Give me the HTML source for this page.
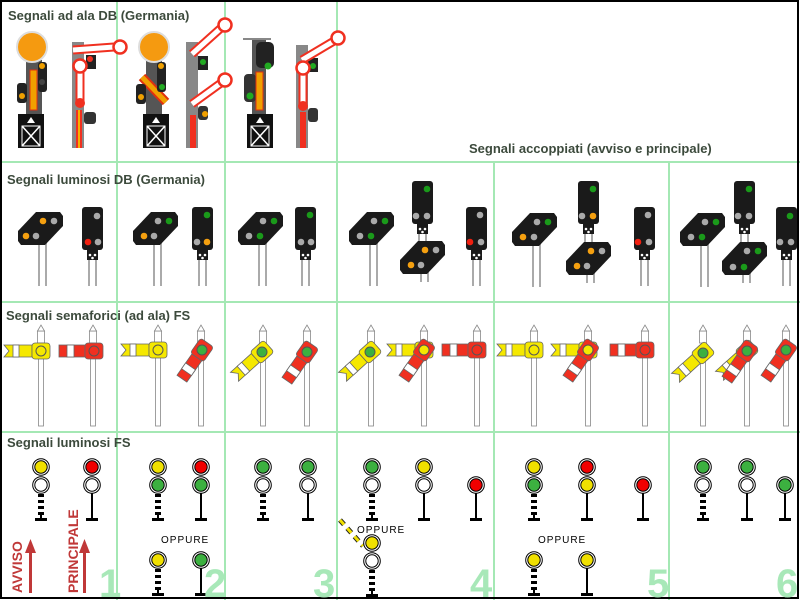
<!DOCTYPE html>
<html><head><meta charset="utf-8"><style>
html,body{margin:0;padding:0;background:#fff}
svg{display:block}
.t{font-family:"Liberation Sans",sans-serif;font-weight:bold;font-size:13px;fill:#3c4a3c}
.n{font-family:"Liberation Sans",sans-serif;font-weight:bold;font-size:40px;fill:#a8e8b8}
.o{font-family:"Liberation Sans",sans-serif;font-size:10px;fill:#000;letter-spacing:1px}
.r{font-family:"Liberation Sans",sans-serif;font-weight:bold;font-size:14px;fill:#c03838}
</style></head><body>
<svg width="800" height="600" viewBox="0 0 800 600" xmlns="http://www.w3.org/2000/svg">
<defs>
 <g id="lamp"><circle r="8.3" fill="#fff" stroke="#000" stroke-width="1"/><circle r="6.2" stroke="#000" stroke-width="1"/></g>
 <g id="dpost"><rect x="-3" y="9" width="6" height="3" fill="#000"/><rect x="-3" y="15" width="6" height="3" fill="#000"/><rect x="-3" y="21" width="6" height="3" fill="#000"/><rect x="-3" y="27" width="6" height="3" fill="#000"/><rect x="-1" y="30" width="2" height="4" fill="#000"/><rect x="-6" y="33" width="12" height="3" fill="#000"/></g>
 <g id="spost"><rect x="-1" y="8" width="2" height="26" fill="#000"/><rect x="-6" y="33" width="12" height="3" fill="#000"/></g>
 <g id="yarm" stroke="#666" stroke-width="0.8"><polygon points="-9,-6 -37,-6 -32,0 -37,6 -9,6" fill="#f5e800"/><rect x="-28" y="-6" width="6" height="12" fill="#fff"/><rect x="-9" y="-8" width="18" height="16" rx="3" fill="#f5e800"/></g>
 <g id="rarm" stroke="#666" stroke-width="0.8"><rect x="-35" y="-6" width="26" height="12" fill="#f03020"/><rect x="-27" y="-6" width="7" height="12" fill="#fff"/><rect x="-9" y="-8" width="18" height="16" rx="3" fill="#f03020"/></g>
 <g id="spole" fill="#fff" stroke="#888" stroke-width="0.8"><rect x="-2.5" y="8" width="5" height="75"/><rect x="-3.5" y="-12" width="7" height="12"/><polygon points="-3.5,-12 0,-18 3.5,-12"/></g>
 <g id="vorb"><polygon points="-7,-9 17,-9 20,-5 20,5 2,24 -22,24 -25,20 -25,10" fill="#1a1a1a"/></g>
 <g id="vor"><line x1="-4" y1="24" x2="-4" y2="65" stroke="#aaa" stroke-width="2"/><line x1="3" y1="20" x2="3" y2="65" stroke="#aaa" stroke-width="2"/><use href="#vorb"/></g>
 <g id="vor2"><line x1="-4" y1="24" x2="-4" y2="32" stroke="#aaa" stroke-width="2"/><line x1="3" y1="20" x2="3" y2="32" stroke="#aaa" stroke-width="2"/><use href="#vorb"/></g>
 <g id="haupt"><rect x="0" y="0" width="21" height="43" rx="3" fill="#1a1a1a"/><rect x="5" y="43" width="11" height="10" fill="#1a1a1a"/><circle cx="8" cy="48" r="1.3" fill="#fff"/><circle cx="13" cy="48" r="1.3" fill="#fff"/><circle cx="10.5" cy="51" r="1.3" fill="#fff"/><line x1="7" y1="53" x2="7" y2="79" stroke="#aaa" stroke-width="2"/><line x1="14" y1="53" x2="14" y2="79" stroke="#aaa" stroke-width="2"/></g>
 <g id="lattice"><rect x="0" y="0" width="26" height="34" fill="#111"/><polygon points="13,3 9,9 17,9" fill="#fff"/><line x1="4" y1="12" x2="22" y2="32" stroke="#fff" stroke-width="1.5"/><line x1="22" y1="12" x2="4" y2="32" stroke="#fff" stroke-width="1.5"/><rect x="4" y="12" width="18" height="20" fill="none" stroke="#fff" stroke-width="1"/></g>
</defs>
<rect x="0" y="0" width="800" height="600" fill="#fff"/>
<g stroke="#a4e8b4" stroke-width="2">
<line x1="117" y1="0" x2="117" y2="600"/><line x1="225" y1="0" x2="225" y2="600"/><line x1="337" y1="0" x2="337" y2="600"/>
<line x1="494" y1="162" x2="494" y2="600"/><line x1="669" y1="162" x2="669" y2="600"/>
<line x1="0" y1="162" x2="800" y2="162"/><line x1="0" y1="302" x2="800" y2="302"/><line x1="0" y1="432" x2="800" y2="432"/>
</g>
<rect x="1" y="1" width="797" height="597" fill="none" stroke="#000" stroke-width="2"/>

<text class="t" x="8" y="20">Segnali ad ala DB (Germania)</text>
<text class="t" x="469" y="153">Segnali accoppiati (avviso e principale)</text>
<text class="t" x="7" y="184">Segnali luminosi DB (Germania)</text>
<text class="t" x="6" y="320">Segnali semaforici (ad ala) FS</text>
<text class="t" x="7" y="447">Segnali luminosi FS</text>

<g>
 <rect x="26" y="60" width="16" height="88" fill="#555"/>
 <circle cx="32" cy="47" r="15" fill="#f59a10" stroke="#ddd" stroke-width="2"/>
 <rect x="30" y="70" width="7" height="40" fill="#f0a000" stroke="#e03010" stroke-width="1"/>
 <rect x="38" y="62" width="9" height="30" rx="3" fill="#222"/><circle cx="42" cy="66" r="3" fill="#f0a000"/><circle cx="42" cy="82" r="3" fill="#444"/>
 <rect x="17" y="83" width="10" height="20" rx="3" fill="#222"/><circle cx="22" cy="96" r="3" fill="#f0a000"/>
 <use href="#lattice" x="18" y="114"/>
 <rect x="72" y="42" width="12" height="106" fill="#888"/><rect x="76" y="110" width="6" height="38" fill="#f03020"/><rect x="78" y="110" width="2" height="38" fill="#f5b000"/>
 <rect x="86" y="55" width="10" height="14" fill="#222"/><circle cx="90" cy="59" r="3" fill="#f03020"/>
 <rect x="84" y="112" width="12" height="12" rx="3" fill="#333"/>
 <line x1="73" y1="50" x2="114" y2="47" stroke="#f03020" stroke-width="9"/><line x1="73" y1="50" x2="114" y2="47" stroke="#fff" stroke-width="5"/>
 <circle cx="120" cy="47" r="6.5" fill="#fff" stroke="#f03020" stroke-width="2.5"/>
 <line x1="80" y1="66" x2="80" y2="105" stroke="#f03020" stroke-width="9"/><line x1="80" y1="66" x2="80" y2="105" stroke="#fff" stroke-width="5"/>
 <circle cx="80" cy="66" r="6.5" fill="#fff" stroke="#f03020" stroke-width="2.5"/>
 <circle cx="80" cy="103" r="5" fill="#f03020"/>
 <rect x="146" y="60" width="16" height="88" fill="#555"/>
 <circle cx="154" cy="47" r="15" fill="#f59a10" stroke="#ddd" stroke-width="2"/>
 <line x1="142" y1="77" x2="166" y2="102" stroke="#e03010" stroke-width="9"/><line x1="142" y1="77" x2="166" y2="102" stroke="#f0a000" stroke-width="5"/>
 <rect x="157" y="62" width="9" height="30" rx="3" fill="#222"/><circle cx="161" cy="66" r="3" fill="#f0a000"/><circle cx="162" cy="87" r="3" fill="#2a2"/>
 <rect x="136" y="84" width="10" height="20" rx="3" fill="#222"/><circle cx="141" cy="97" r="3" fill="#f0a000"/>
 <use href="#lattice" x="143" y="114"/>
 <rect x="186" y="42" width="12" height="106" fill="#888"/><rect x="190" y="115" width="6" height="33" fill="#f03020"/>
 <rect x="198" y="56" width="10" height="14" fill="#222"/><circle cx="203" cy="62" r="3" fill="#2a2"/>
 <rect x="198" y="106" width="10" height="14" rx="3" fill="#333"/><circle cx="205" cy="114" r="3" fill="#f0a000"/>
 <line x1="192" y1="54" x2="221" y2="28" stroke="#f03020" stroke-width="9"/><line x1="192" y1="54" x2="221" y2="28" stroke="#fff" stroke-width="5"/>
 <circle cx="225" cy="25" r="6.5" fill="#fff" stroke="#f03020" stroke-width="2.5"/>
 <line x1="192" y1="104" x2="221" y2="83" stroke="#f03020" stroke-width="9"/><line x1="192" y1="104" x2="221" y2="83" stroke="#fff" stroke-width="5"/>
 <circle cx="225" cy="80" r="6.5" fill="#fff" stroke="#f03020" stroke-width="2.5"/>
 <line x1="243" y1="39" x2="271" y2="39" stroke="#888" stroke-width="2"/>
 <rect x="252" y="40" width="14" height="108" fill="#555"/>
 <rect x="256" y="42" width="18" height="26" rx="5" fill="#222"/><circle cx="268" cy="66" r="3.5" fill="#2a2"/>
 <rect x="244" y="74" width="12" height="28" rx="4" fill="#333"/><circle cx="250" cy="96" r="3.5" fill="#2a2"/>
 <rect x="256" y="72" width="7" height="38" fill="#f0a000" stroke="#e03010" stroke-width="1"/>
 <use href="#lattice" x="247" y="114"/>
 <rect x="296" y="45" width="12" height="103" fill="#888"/><rect x="300" y="112" width="6" height="36" fill="#f03020"/>
 <rect x="308" y="58" width="10" height="14" fill="#222"/><circle cx="313" cy="66" r="3" fill="#2a2"/>
 <rect x="308" y="108" width="10" height="14" rx="3" fill="#333"/>
 <line x1="302" y1="60" x2="334" y2="41" stroke="#f03020" stroke-width="9"/><line x1="302" y1="60" x2="334" y2="41" stroke="#fff" stroke-width="5"/>
 <circle cx="338" cy="38" r="6.5" fill="#fff" stroke="#f03020" stroke-width="2.5"/>
 <line x1="303" y1="68" x2="303" y2="106" stroke="#f03020" stroke-width="9"/><line x1="303" y1="68" x2="303" y2="106" stroke="#fff" stroke-width="5"/>
 <circle cx="303" cy="68" r="6.5" fill="#fff" stroke="#f03020" stroke-width="2.5"/>
 <circle cx="303" cy="106" r="5" fill="#f03020"/>
</g>

<g>
 <use href="#vor" x="43" y="221"/>
 <circle cx="43" cy="221" r="3.3" fill="#f5a010"/><circle cx="54" cy="221" r="3.3" fill="#aaa"/><circle cx="26" cy="236" r="3.3" fill="#f5a010"/><circle cx="36" cy="236" r="3.3" fill="#aaa"/>
 <use href="#haupt" x="82" y="207"/>
 <circle cx="97" cy="216" r="3.3" fill="#aaa"/><circle cx="88" cy="242" r="3.3" fill="#f02010"/><circle cx="98" cy="242" r="3.3" fill="#aaa"/>

 <use href="#vor" x="158" y="221"/>
 <circle cx="158" cy="221" r="3.3" fill="#aaa"/><circle cx="169" cy="221" r="3.3" fill="#1a9a1a"/><circle cx="144" cy="236" r="3.3" fill="#f5a010"/><circle cx="154" cy="236" r="3.3" fill="#aaa"/>
 <use href="#haupt" x="192" y="207"/>
 <circle cx="207" cy="215" r="3.3" fill="#1a9a1a"/><circle cx="197" cy="242" r="3.3" fill="#aaa"/><circle cx="207" cy="242" r="3.3" fill="#f5a010"/>

 <use href="#vor" x="263" y="221"/>
 <circle cx="263" cy="221" r="3.3" fill="#aaa"/><circle cx="274" cy="221" r="3.3" fill="#1a9a1a"/><circle cx="249" cy="236" r="3.3" fill="#aaa"/><circle cx="260" cy="236" r="3.3" fill="#1a9a1a"/>
 <use href="#haupt" x="295" y="207"/>
 <circle cx="310" cy="215" r="3.3" fill="#1a9a1a"/><circle cx="301" cy="242" r="3.3" fill="#aaa"/><circle cx="311" cy="242" r="3.3" fill="#aaa"/>

 <use href="#vor" x="374" y="221"/>
 <circle cx="374" cy="221" r="3.3" fill="#aaa"/><circle cx="385" cy="221" r="3.3" fill="#1a9a1a"/><circle cx="360" cy="236" r="3.3" fill="#aaa"/><circle cx="371" cy="236" r="3.3" fill="#1a9a1a"/>
 <use href="#haupt" x="412" y="181"/>
 <circle cx="427" cy="189" r="3.3" fill="#1a9a1a"/><circle cx="416" cy="216" r="3.3" fill="#aaa"/><circle cx="427" cy="216" r="3.3" fill="#aaa"/>
 <use href="#vor2" x="425" y="250"/>
 <circle cx="425" cy="250" r="3.3" fill="#f5a010"/><circle cx="436" cy="250" r="3.3" fill="#aaa"/><circle cx="411" cy="265" r="3.3" fill="#f5a010"/><circle cx="421" cy="265" r="3.3" fill="#aaa"/>
 <use href="#haupt" x="466" y="207"/>
 <circle cx="480" cy="215" r="3.3" fill="#aaa"/><circle cx="470" cy="242" r="3.3" fill="#f02010"/><circle cx="481" cy="242" r="3.3" fill="#aaa"/>

 <use href="#vor" x="537" y="222"/>
 <circle cx="537" cy="222" r="3.3" fill="#aaa"/><circle cx="548" cy="222" r="3.3" fill="#1a9a1a"/><circle cx="523" cy="237" r="3.3" fill="#f5a010"/><circle cx="534" cy="237" r="3.3" fill="#aaa"/>
 <use href="#haupt" x="578" y="181"/>
 <circle cx="593" cy="189" r="3.3" fill="#1a9a1a"/><circle cx="582" cy="216" r="3.3" fill="#aaa"/><circle cx="593" cy="216" r="3.3" fill="#f5a010"/>
 <use href="#vor2" x="591" y="251"/>
 <circle cx="591" cy="251" r="3.3" fill="#f5a010"/><circle cx="602" cy="251" r="3.3" fill="#aaa"/><circle cx="577" cy="266" r="3.3" fill="#f5a010"/><circle cx="587" cy="266" r="3.3" fill="#aaa"/>
 <use href="#haupt" x="634" y="207"/>
 <circle cx="648" cy="215" r="3.3" fill="#aaa"/><circle cx="638" cy="242" r="3.3" fill="#f02010"/><circle cx="649" cy="242" r="3.3" fill="#aaa"/>

 <use href="#vor" x="705" y="222"/>
 <circle cx="705" cy="222" r="3.3" fill="#aaa"/><circle cx="716" cy="222" r="3.3" fill="#1a9a1a"/><circle cx="691" cy="237" r="3.3" fill="#aaa"/><circle cx="702" cy="237" r="3.3" fill="#1a9a1a"/>
 <use href="#haupt" x="734" y="181"/>
 <circle cx="749" cy="189" r="3.3" fill="#1a9a1a"/><circle cx="738" cy="216" r="3.3" fill="#aaa"/><circle cx="749" cy="216" r="3.3" fill="#aaa"/>
 <use href="#vor2" x="747" y="251"/>
 <circle cx="747" cy="251" r="3.3" fill="#aaa"/><circle cx="758" cy="251" r="3.3" fill="#1a9a1a"/><circle cx="733" cy="267" r="3.3" fill="#aaa"/><circle cx="744" cy="267" r="3.3" fill="#1a9a1a"/>
 <use href="#haupt" x="776" y="207"/>
 <circle cx="790" cy="216" r="3.3" fill="#1a9a1a"/><circle cx="780" cy="242" r="3.3" fill="#aaa"/><circle cx="791" cy="242" r="3.3" fill="#aaa"/>
</g>

<g>
 <use href="#spole" x="41" y="343"/><use href="#yarm" x="41" y="351"/><circle cx="41" cy="351" r="5" fill="#f5e800" stroke="#555"/>
 <use href="#spole" x="93" y="343"/><use href="#rarm" x="94" y="351"/><circle cx="94" cy="351" r="5" fill="#f03020" stroke="#555"/>

 <use href="#spole" x="158" y="343"/><use href="#yarm" x="158" y="350"/><circle cx="158" cy="350" r="5" fill="#f5e800" stroke="#555"/>
 <use href="#spole" x="201" y="343"/><g transform="translate(202,350) rotate(-55)"><use href="#rarm"/></g><circle cx="202" cy="350" r="5" fill="#3cb040" stroke="#555"/>

 <use href="#spole" x="263" y="343"/><g transform="translate(262,352) rotate(-42)"><use href="#yarm"/></g><circle cx="262" cy="352" r="5" fill="#3cb040" stroke="#555"/>
 <use href="#spole" x="307" y="343"/><g transform="translate(307,352) rotate(-55)"><use href="#rarm"/></g><circle cx="307" cy="352" r="5" fill="#3cb040" stroke="#555"/>

 <use href="#spole" x="371" y="343"/><g transform="translate(370,352) rotate(-42)"><use href="#yarm"/></g><circle cx="370" cy="352" r="5" fill="#3cb040" stroke="#555"/>
 <use href="#spole" x="424" y="343"/><use href="#yarm" x="424" y="350"/><g transform="translate(424,350) rotate(-55)"><use href="#rarm"/></g><circle cx="424" cy="350" r="5" fill="#f5e800" stroke="#555"/>
 <use href="#spole" x="477" y="343"/><use href="#rarm" x="477" y="350"/><circle cx="477" cy="350" r="5" fill="#f03020" stroke="#555"/>

 <use href="#spole" x="534" y="343"/><use href="#yarm" x="534" y="350"/><circle cx="534" cy="350" r="5" fill="#f5e800" stroke="#555"/>
 <use href="#spole" x="588" y="343"/><use href="#yarm" x="588" y="350"/><g transform="translate(588,350) rotate(-55)"><use href="#rarm"/></g><circle cx="588" cy="350" r="5" fill="#f5e800" stroke="#555"/>
 <use href="#spole" x="645" y="343"/><use href="#rarm" x="645" y="350"/><circle cx="645" cy="350" r="5" fill="#f03020" stroke="#555"/>

 <use href="#spole" x="703" y="343"/><g transform="translate(703,353) rotate(-42)"><use href="#yarm"/></g><circle cx="703" cy="353" r="5" fill="#3cb040" stroke="#555"/>
 <use href="#spole" x="747" y="343"/><g transform="translate(747,351) rotate(-42)"><use href="#yarm"/></g><g transform="translate(747,351) rotate(-55)"><use href="#rarm"/></g><circle cx="747" cy="351" r="5" fill="#3cb040" stroke="#555"/>
 <use href="#spole" x="786" y="343"/><g transform="translate(786,350) rotate(-55)"><use href="#rarm"/></g><circle cx="786" cy="350" r="5" fill="#3cb040" stroke="#555"/>
</g>

<g>
 <use href="#dpost" x="41" y="485"/><use href="#lamp" x="41" y="467" fill="#f0e000"/><use href="#lamp" x="41" y="485" fill="#fff"/>
 <use href="#spost" x="92" y="485"/><use href="#lamp" x="92" y="467" fill="#f00000"/><use href="#lamp" x="92" y="485" fill="#fff"/>
 <use href="#dpost" x="158" y="485"/><use href="#lamp" x="158" y="467" fill="#f0e000"/><use href="#lamp" x="158" y="485" fill="#3cb040"/>
 <use href="#spost" x="201" y="485"/><use href="#lamp" x="201" y="467" fill="#f00000"/><use href="#lamp" x="201" y="485" fill="#3cb040"/>
 <text class="o" x="161" y="543">OPPURE</text>
 <use href="#dpost" x="158" y="560"/><use href="#lamp" x="158" y="560" fill="#f0e000"/>
 <use href="#spost" x="201" y="560"/><use href="#lamp" x="201" y="560" fill="#3cb040"/>
 <use href="#dpost" x="263" y="485"/><use href="#lamp" x="263" y="467" fill="#3cb040"/><use href="#lamp" x="263" y="485" fill="#fff"/>
 <use href="#spost" x="308" y="485"/><use href="#lamp" x="308" y="467" fill="#3cb040"/><use href="#lamp" x="308" y="485" fill="#fff"/>
 <use href="#dpost" x="372" y="485"/><use href="#lamp" x="372" y="467" fill="#3cb040"/><use href="#lamp" x="372" y="485" fill="#fff"/>
 <use href="#spost" x="424" y="485"/><use href="#lamp" x="424" y="467" fill="#f0e000"/><use href="#lamp" x="424" y="485" fill="#fff"/>
 <use href="#spost" x="476" y="485"/><use href="#lamp" x="476" y="485" fill="#f00000"/>
 <line x1="340" y1="520" x2="363" y2="546" stroke="#222" stroke-width="5" stroke-dasharray="6,5"/>
 <line x1="340" y1="520" x2="363" y2="546" stroke="#f0e000" stroke-width="3" stroke-dasharray="6,5"/>
 <text class="o" x="357" y="533">OPPURE</text>
 <use href="#dpost" x="372" y="561"/><use href="#lamp" x="372" y="543" fill="#f0e000"/><use href="#lamp" x="372" y="561" fill="#fff"/>
 <use href="#dpost" x="534" y="485"/><use href="#lamp" x="534" y="467" fill="#f0e000"/><use href="#lamp" x="534" y="485" fill="#3cb040"/>
 <use href="#spost" x="587" y="485"/><use href="#lamp" x="587" y="467" fill="#f00000"/><use href="#lamp" x="587" y="485" fill="#f0e000"/>
 <use href="#spost" x="643" y="485"/><use href="#lamp" x="643" y="485" fill="#f00000"/>
 <text class="o" x="538" y="543">OPPURE</text>
 <use href="#dpost" x="534" y="560"/><use href="#lamp" x="534" y="560" fill="#f0e000"/>
 <use href="#spost" x="587" y="560"/><use href="#lamp" x="587" y="560" fill="#f0e000"/>
 <use href="#dpost" x="703" y="485"/><use href="#lamp" x="703" y="467" fill="#3cb040"/><use href="#lamp" x="703" y="485" fill="#fff"/>
 <use href="#spost" x="747" y="485"/><use href="#lamp" x="747" y="467" fill="#3cb040"/><use href="#lamp" x="747" y="485" fill="#fff"/>
 <use href="#spost" x="785" y="485"/><use href="#lamp" x="785" y="485" fill="#3cb040"/>

 <text class="r" transform="translate(22,593) rotate(-90)">AVVISO</text>
 <rect x="29" y="550" width="3" height="43" fill="#c03838"/><polygon points="30.5,539 25,553 36,553" fill="#c03838"/>
 <text class="r" transform="translate(78,593) rotate(-90)">PRINCIPALE</text>
 <rect x="83" y="550" width="3" height="43" fill="#c03838"/><polygon points="84.5,539 79,553 90,553" fill="#c03838"/>

 <text class="n" x="99" y="597">1</text>
 <text class="n" x="204" y="597">2</text>
 <text class="n" x="313" y="597">3</text>
 <text class="n" x="470" y="597">4</text>
 <text class="n" x="647" y="597">5</text>
 <text class="n" x="776" y="597">6</text>
</g>
</svg>
</body></html>
